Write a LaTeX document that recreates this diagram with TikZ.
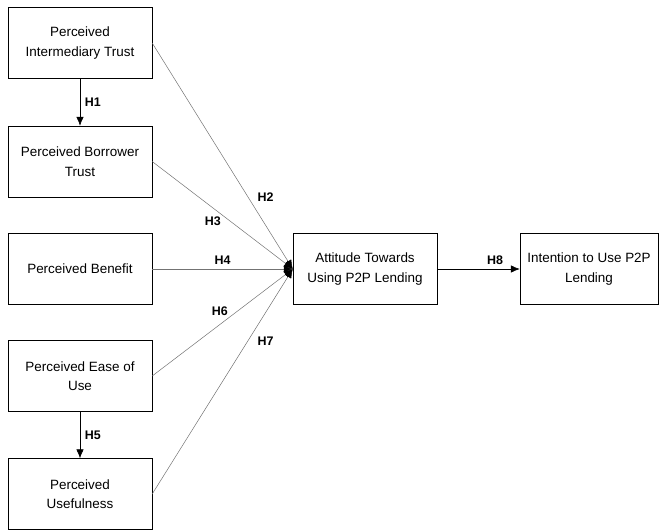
\documentclass[tikz,border=0pt]{standalone}
\usepackage{fontspec}
\setmainfont{Liberation Sans}
\usepackage{tikz}
\usetikzlibrary{positioning, arrows.meta}

\begin{document}
\begin{tikzpicture}[x=1bp, y=-1bp, on grid,
    >={Latex[length=9bp,width=7.5bp,color=black]},
    box/.style={draw, thin, minimum width=144bp, minimum height=71bp, align=center,
                font=\fontsize{13.5}{19.5}\selectfont},
    link/.style={->, draw=black!55, line width=0.5bp},
    hyp/.style={font=\bfseries\fontsize{12.5}{14}\selectfont, inner sep=1.5bp}]
    \useasboundingbox (0,0) rectangle (659,531);

    \node[box] (pit) at (80,43) {Perceived\\Intermediary Trust};
    \node[box] (pbt) [below=118.5bp of pit] {Perceived Borrower\\Trust};
    \node[box] (pb) [below=107.5bp of pbt] {Perceived Benefit};
    \node[box] (peou) [below=107bp of pb] {Perceived Ease of\\Use};
    \node[box] (pu) [below=118bp of peou] {Perceived\\Usefulness};
    \node[box] (att) [right=285bp of pb] {Attitude Towards\\Using P2P Lending};
    \node[box, minimum width=138bp] (int) [right=224bp of att] {Intention to Use P2P\\Lending};

    \draw[->, line width=0.6bp] (pit) -- node[hyp, right=3bp] {H1} (pbt);
    \draw[->, line width=0.6bp] (peou) -- node[hyp, right=3bp] {H5} (pu);

    \draw[link] (pit.east) -- node[hyp, pos=0.68, right=8bp] {H2} (att.west);
    \draw[link] (pbt.east) -- node[hyp, pos=0.5, anchor=north east] {H3} (att.west);
    \draw[link] (pb.east) -- node[hyp, pos=0.5, above=3bp] {H4} (att.west);
    \draw[link] (peou.east) -- node[hyp, pos=0.55, anchor=south east] {H6} (att.west);
    \draw[link] (pu.east) -- node[hyp, pos=0.68, right=8bp] {H7} (att.west);

    \draw[->, line width=0.6bp] (att) -- node[hyp, pos=0.7, above=3bp] {H8} (int);
\end{tikzpicture}
\end{document}
